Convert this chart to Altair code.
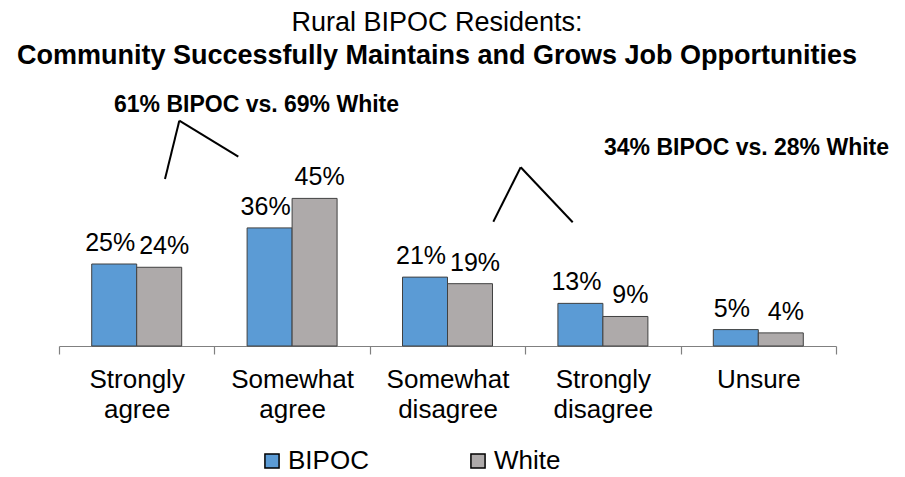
import altair as alt
import pandas as pd

categories = ["Strongly agree", "Somewhat agree", "Somewhat disagree", "Strongly disagree", "Unsure"]
groups = ["BIPOC", "White"]
bipoc = [25, 36, 21, 13, 5]
white = [24, 45, 19, 9, 4]
colors = ["#5B9BD5", "#AEAAAA"]

title_line1 = "Rural BIPOC Residents:"
title_line2 = "Community Successfully Maintains and Grows Job Opportunities"
note_agree = "61% BIPOC vs. 69% White"
note_disagree = "34% BIPOC vs. 28% White"

rows = []
for c, b, w in zip(categories, bipoc, white):
    rows.append({"category": c, "group": "BIPOC", "value": b, "label": f"{b}%"})
    rows.append({"category": c, "group": "White", "value": w, "label": f"{w}%"})
df = pd.DataFrame(rows)

FONT = "Liberation Sans"

x_enc = alt.X(
    "category:N",
    sort=categories,
    scale=alt.Scale(paddingInner=0, paddingOuter=0),
    axis=alt.Axis(
        title=None,
        labelExpr="split(datum.label, ' ')",
        labelAngle=0,
        labelFontSize=26,
        labelFont=FONT,
        labelColor="#000000",
        labelLineHeight=30,
        labelPadding=12,
        tickBand="extent",
        tickSize=8,
        tickColor="#808080",
        domainColor="#808080",
        domainWidth=1.2,
        tickWidth=1.2,
        grid=False,
    ),
)
xo_enc = alt.XOffset("group:N", sort=groups, scale=alt.Scale(paddingOuter=0.727, paddingInner=0))
y_enc = alt.Y("value:Q", scale=alt.Scale(domain=[0, 100]), axis=None)

bars = alt.Chart(df).mark_bar(stroke="#404040", strokeWidth=1).encode(
    x=x_enc,
    xOffset=xo_enc,
    y=y_enc,
    color=alt.Color(
        "group:N",
        scale=alt.Scale(domain=groups, range=colors),
        legend=alt.Legend(
            title=None,
            orient="none",
            legendX=200,
            legendY=430,
            direction="horizontal",
            symbolType="square",
            symbolSize=200,
            symbolStrokeColor="#000000",
            symbolStrokeWidth=1.5,
            symbolOpacity=1,
            labelFontSize=26,
            labelFont=FONT,
            labelColor="#000000",
            labelOffset=3,
            columnPadding=96,
            padding=0,
        ),
    ),
)

label_b = alt.Chart(df).transform_filter(alt.datum.group == "BIPOC").mark_text(
    fontSize=25, font=FONT, color="#000000", baseline="alphabetic", dy=-13, dx=-4
).encode(x=x_enc, xOffset=xo_enc, y=y_enc, text="label:N")
label_w = alt.Chart(df).transform_filter(alt.datum.group == "White").mark_text(
    fontSize=25, font=FONT, color="#000000", baseline="alphabetic", dy=-13, dx=5
).encode(x=x_enc, xOffset=xo_enc, y=y_enc, text="label:N")

one = pd.DataFrame({"k": [0]})

t1 = alt.Chart(one).mark_text(fontSize=27, font=FONT, color="#000000", baseline="alphabetic").encode(
    x=alt.value(378), y=alt.value(13), text=alt.value(title_line1)
)
t2 = alt.Chart(one).mark_text(
    fontSize=27, font=FONT, fontWeight="bold", color="#000000", baseline="alphabetic"
).encode(x=alt.value(378), y=alt.value(46), text=alt.value(title_line2))

n1 = alt.Chart(one).mark_text(
    fontSize=23, font=FONT, fontWeight="bold", color="#000000", baseline="alphabetic"
).encode(x=alt.value(197.5), y=alt.value(93.7), text=alt.value(note_agree))
n2 = alt.Chart(one).mark_text(
    fontSize=23, font=FONT, fontWeight="bold", color="#000000", baseline="alphabetic"
).encode(x=alt.value(687.5), y=alt.value(137), text=alt.value(note_disagree))


def seg(xa, ya, xb, yb):
    return alt.Chart(one).mark_rule(color="#000000", strokeWidth=2).encode(
        x=alt.value(xa), y=alt.value(ya), x2=alt.value(xb), y2=alt.value(yb)
    )


lines = [
    seg(106, 161, 120.3, 102.7),
    seg(120.3, 102.7, 179.3, 138.7),
    seg(434.3, 203.7, 461.7, 149.3),
    seg(461.7, 149.3, 513.7, 204.3),
]

chart = alt.layer(bars, label_b, label_w, t1, t2, n1, n2, *lines).properties(
    width=777,
    height=328,
    autosize=alt.AutoSizeParams(type="none"),
    padding={"left": 59, "top": 18, "right": 69, "bottom": 131},
    background="#ffffff",
).configure_view(stroke=None)

chart.save("out.html", embed_options={"renderer": "svg", "actions": False})
